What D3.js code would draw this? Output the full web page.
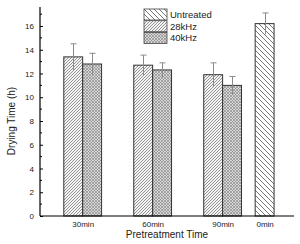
<!DOCTYPE html>
<html>
<head>
<meta charset="utf-8">
<script src="https://cdn.jsdelivr.net/npm/d3@7"></script>
<style>
body { margin:0; background:#fff; }
svg { font-family: "Liberation Sans", Arial, sans-serif; }
</style>
</head>
<body>
<div id="chart"></div>
<script>
// data
const groups = ["30min", "60min", "90min", "0min"];
const groupPos = [1, 2, 3, 3.6];
const series = ["Untreated", "28kHz", "40kHz"];
const val28 = [13.4, 12.7, 11.9];
const err28 = [1.1, 0.85, 1.0];
const val40 = [12.8, 12.3, 11.0];
const err40 = [0.9, 0.6, 0.75];
const valUntreated = [16.2];
const errUntreated = [0.9];
const yTicks = [0, 2, 4, 6, 8, 10, 12, 14, 16];

const width = 300, height = 244;
const svg = d3.select("#chart").append("svg")
  .attr("width", width).attr("height", height);

const x = d3.scaleLinear().domain([0.39, 4.02]).range([40, 294]);
const y = d3.scaleLinear().domain([0, 17.6]).range([216, 7]);
const bw = x(1.27) - x(1);

// patterns
const defs = svg.append("defs");
const pU = defs.append("pattern").attr("id", "pU").attr("patternUnits", "userSpaceOnUse")
  .attr("width", 5).attr("height", 5);
pU.append("rect").attr("width", 5).attr("height", 5).attr("fill", "#fff");
pU.append("path").attr("d", "M0,0 L5,5 M-1,4 L1,6 M4,-1 L6,1")
  .attr("stroke", "#666").attr("stroke-width", 0.9);

const p28 = defs.append("pattern").attr("id", "p28").attr("patternUnits", "userSpaceOnUse")
  .attr("width", 3).attr("height", 3);
p28.append("rect").attr("width", 3).attr("height", 3).attr("fill", "#f4f4f4");
p28.append("path").attr("d", "M0,3 L3,0 M-1,1 L1,-1 M2,4 L4,2")
  .attr("stroke", "#7a7a7a").attr("stroke-width", 0.8);

const p40 = defs.append("pattern").attr("id", "p40").attr("patternUnits", "userSpaceOnUse")
  .attr("width", 3).attr("height", 3);
p40.append("rect").attr("width", 3).attr("height", 3).attr("fill", "#d8d8d8");
p40.append("path").attr("d", "M0,3 L3,0 M-1,1 L1,-1 M2,4 L4,2 M0,0 L3,3 M-1,2 L1,4 M2,-1 L4,1")
  .attr("stroke", "#808080").attr("stroke-width", 0.6);

const fills = {"Untreated": "url(#pU)", "28kHz": "url(#p28)", "40kHz": "url(#p40)"};

// build bar records
const bars = [];
for (let i = 0; i < 3; i++) {
  bars.push({s: "28kHz", c: groupPos[i] - 0.135, v: val28[i], e: err28[i]});
  bars.push({s: "40kHz", c: groupPos[i] + 0.135, v: val40[i], e: err40[i]});
}
bars.push({s: "Untreated", c: groupPos[3], v: valUntreated[0], e: errUntreated[0]});

svg.append("g").selectAll("rect").data(bars).enter().append("rect")
  .attr("x", d => x(d.c) - bw / 2)
  .attr("y", d => y(d.v))
  .attr("width", bw)
  .attr("height", d => y(0) - y(d.v))
  .attr("fill", d => fills[d.s])
  .attr("stroke", "#333").attr("stroke-width", 1);

// error bars
const eg = svg.append("g").attr("stroke", "#8a8a8a").attr("stroke-width", 1);
bars.forEach(d => {
  const cx = Math.round(x(d.c)) + 0.5;
  eg.append("line").attr("x1", cx).attr("x2", cx).attr("y1", y(d.v + d.e)).attr("y2", y(d.v - d.e));
  eg.append("line").attr("x1", cx - 3).attr("x2", cx + 3).attr("y1", y(d.v + d.e)).attr("y2", y(d.v + d.e));
});

// y axis with inward ticks
const yAxis = svg.append("g").attr("transform", "translate(40,0)")
  .call(d3.axisLeft(y).tickValues(yTicks).tickSize(-3).tickPadding(6));
yAxis.append("g").selectAll("line").data(d3.range(1, 18, 2)).enter().append("line")
  .attr("x1", 0).attr("x2", 2).attr("y1", d => y(d)).attr("y2", d => y(d))
  .attr("stroke", "#000");
yAxis.select(".domain").attr("d", `M0,${y(0)}V${y(17.6)}`).attr("stroke-width", 1.2);
yAxis.selectAll("text").attr("font-size", 8).attr("fill", "#222");

// x axis
const xAxis = svg.append("g").attr("transform", `translate(0,${y(0)})`)
  .call(d3.axisBottom(x).tickValues(groupPos).tickFormat((d, i) => groups[i]).tickSize(0).tickPadding(5));
xAxis.select(".domain").attr("d", `M40,0H294`).attr("stroke-width", 1.2);
xAxis.selectAll("text").attr("font-size", 8).attr("fill", "#222");

// titles
svg.append("text").attr("transform", "translate(15,121) rotate(-90)")
  .attr("text-anchor", "middle").attr("font-size", 10).attr("fill", "#222")
  .text("Drying Time (h)");
svg.append("text").attr("x", 167).attr("y", 238)
  .attr("text-anchor", "middle").attr("font-size", 10).attr("fill", "#222")
  .text("Pretreatment Time");

// legend
const lg = svg.append("g").attr("transform", "translate(144,9)");
series.forEach((s, i) => {
  lg.append("rect").attr("x", 0).attr("y", i * 11.7).attr("width", 23).attr("height", 11)
    .attr("fill", fills[s]).attr("stroke", "#444").attr("stroke-width", 0.8);
  lg.append("text").attr("x", 26).attr("y", i * 11.7 + 9).attr("font-size", 9.5).attr("fill", "#222").text(s);
});
</script>
</body>
</html>
